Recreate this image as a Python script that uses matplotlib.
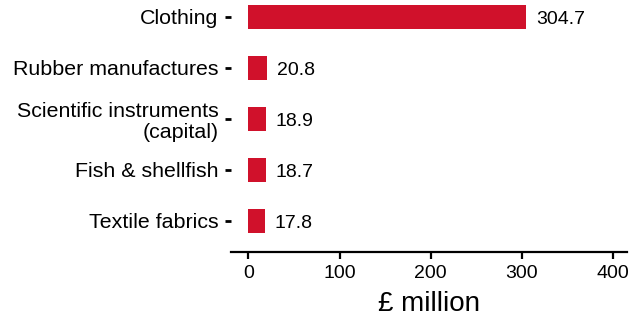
import matplotlib
matplotlib.use('Agg')
import matplotlib.pyplot as plt

plt.rcParams['font.family'] = ['Liberation Sans', 'DejaVu Sans']

# data
categories = ['Clothing', 'Rubber manufactures', 'Scientific instruments\n(capital)',
              'Fish & shellfish', 'Textile fabrics']
values = [304.7, 20.8, 18.9, 18.7, 17.8]
xticks = [0, 100, 200, 300, 400]

bar_color = '#D0112B'

fig = plt.figure(figsize=(6.42, 3.19), dpi=100)
ax = fig.add_axes([231 / 642, 1 - 252 / 319, 396 / 642, 252 / 319])

ypos = list(range(len(categories)))
ax.barh(ypos, values, height=0.48, color=bar_color)

# value labels to the right of the bars
for y, v in zip(ypos, values):
    ax.annotate('{:.1f}'.format(v), xy=(v, y), xytext=(7, -1.5), textcoords='offset points',
                va='center', ha='left', fontsize=14, color='black')

ax.set_xlim(-19.2, 415.5)
ax.set_ylim(4.608, -0.333)
ax.set_yticks(ypos)
ax.set_yticklabels(categories, fontsize=15.4, color='black', linespacing=1.15)
ax.set_xticks(xticks)
ax.set_xticklabels([str(t) for t in xticks], fontsize=14, color='black')
ax.set_xlabel('£ million', fontsize=20, color='black', labelpad=7)

for s in ['top', 'right', 'left']:
    ax.spines[s].set_visible(False)
ax.spines['bottom'].set_linewidth(1.6)
ax.spines['bottom'].set_color('black')
ax.tick_params(axis='y', length=4, width=2, pad=5, color='black')
ax.tick_params(axis='x', length=5, width=1.6, pad=4, color='black')

fig.savefig('out.png', dpi=100)
